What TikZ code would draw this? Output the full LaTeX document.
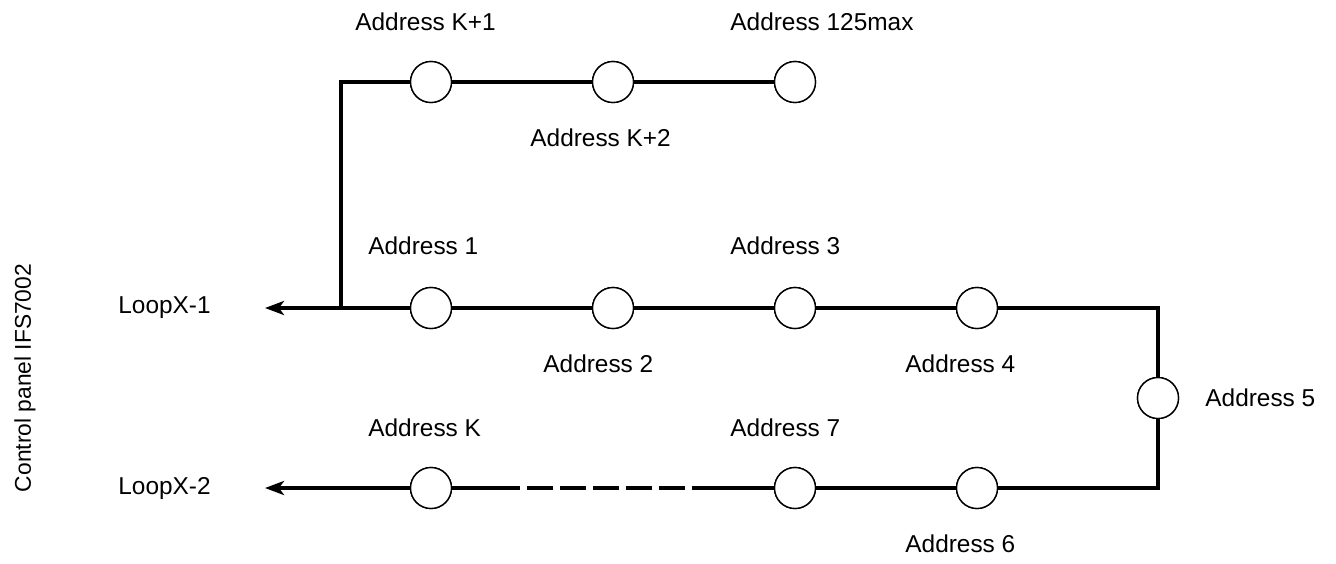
\documentclass[tikz,border=0pt]{standalone}
\usepackage{fontspec}
\setmainfont{Liberation Sans}
\usetikzlibrary{arrows.meta,positioning}

\begin{document}
\begin{tikzpicture}[x=0.5pt, y=-0.5pt, font=\fontsize{12.2}{14}\selectfont,
    addr/.style={circle, draw, line width=0.7pt, minimum size=20.5pt, inner sep=0pt, fill=white},
    wire/.style={line width=2.4pt},
    lbl/.style={anchor=west, inner sep=0pt}]
  \useasboundingbox (0,0) rectangle (1336,563);
  % --- devices on the loop ---
  \node[addr] (k1)   at (431,82)  {};
  \node[addr] (k2)   at (613,82)  {};
  \node[addr] (kmax) at (795,82)  {};
  \node[addr] (a1)   at (431,308) {};
  \node[addr] (a2)   at (613,308) {};
  \node[addr] (a3)   at (795,308) {};
  \node[addr] (a4)   at (977,308) {};
  \node[addr] (a5)   at (1158,398) {};
  \node[addr] (a6)   at (977,488) {};
  \node[addr] (a7)   at (795,488) {};
  \node[addr] (ak)   at (431,488) {};
  % helper points
  \coordinate (j1)   at (341,308);
  \coordinate (tip1) at (265,308);
  \coordinate (tip2) at (265,488);
  \coordinate (c4)   at (1158,308);
  \coordinate (c6)   at (1158,488);
  \coordinate (d1)   at (503,488);
  \coordinate (d2)   at (718,488);
  % --- wiring ---
  \draw[wire] (k1) -- (k2) -- (kmax);
  \draw[wire] (j1) |- (k1);
  \draw[wire, -{Stealth[length=9.5pt, width=7pt, inset=2.5pt]}] (a1) -- (tip1);
  \draw[wire] (a1) -- (a2) -- (a3) -- (a4);
  \draw[wire] (a4) -- (c4) -- (a5);
  \draw[wire] (a5) -- (c6) -- (a6);
  \draw[wire] (a6) -- (a7);
  \draw[wire] (a7) -- (d2);
  \draw[wire, dash pattern=on 13pt off 3.5pt] (d2) -- (d1);
  \draw[wire] (d1) -- (ak);
  \draw[wire, -{Stealth[length=9.5pt, width=7pt, inset=2.5pt]}] (ak) -- (tip2);
  % redraw circles on top of the wires
  \foreach \n in {k1,k2,kmax,a1,a2,a3,a4,a5,a6,a7,ak}
    \node[addr] at (\n) {};
  % --- labels ---
  \node[lbl] (tk1)   at (355,22)  {Address K+1};
  \node[lbl] (tkmax) at (730,22)  {Address 125max};
  \node[lbl] (tk2)   at (530,138) {Address K+2};
  \node[lbl] (t1)    at (368,246) {Address 1};
  \node[lbl] (t3)    at (730,246) {Address 3};
  \node[lbl] (t2)    at (543,364) {Address 2};
  \node[lbl] (t4)    at (905,364) {Address 4};
  \node[lbl] (t5)    at (1205,398) {Address 5};
  \node[lbl] (tk)    at (368,428) {Address K};
  \node[lbl] (t7)    at (730,428) {Address 7};
  \node[lbl] (t6)    at (905,544) {Address 6};
  \node[lbl] (l1)    at (118,308) {LoopX-1};
  \node[lbl] (l2)    at (118,488) {LoopX-2};
  \node[rotate=90, inner sep=0pt, font=\fontsize{11.4}{13}\selectfont] (cp) at (25,378) {Control panel IFS7002};
\end{tikzpicture}
\end{document}
